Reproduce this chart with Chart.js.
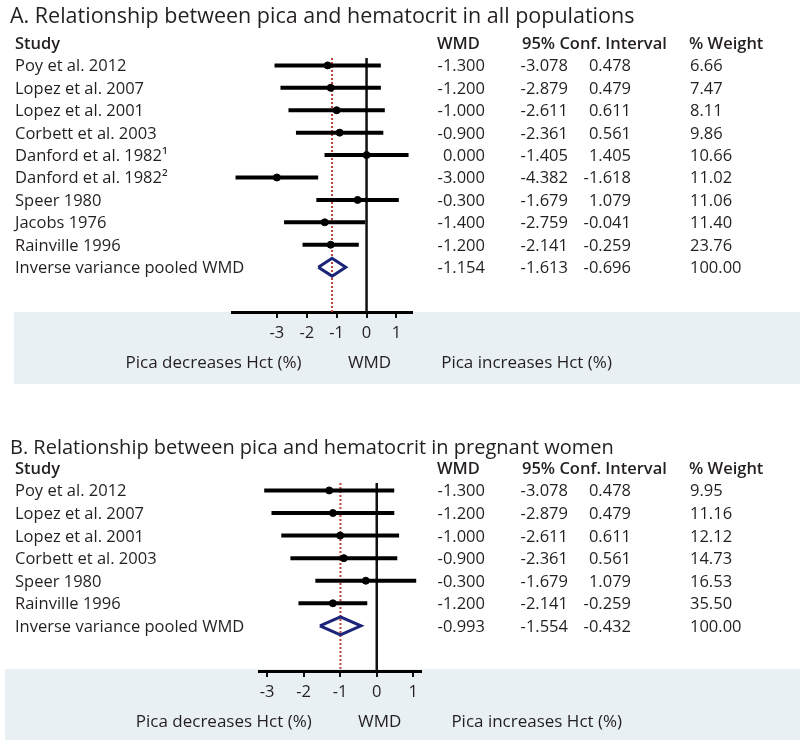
<!DOCTYPE html>
<html>
<head>
<meta charset="utf-8">
<script src="https://cdn.jsdelivr.net/npm/chart.js@4.4.0/dist/chart.umd.min.js"></script>
<style>
body { margin: 0; background: #fff; }
#page { position: relative; width: 800px; height: 741px; overflow: hidden; font-family: 'Open Sans', sans-serif; color: #231f20; }
.band { position: absolute; background: #e8f0f4; }
canvas { position: absolute; left: 0; }
.t { position: absolute; white-space: nowrap; font-size: 16.5px; line-height: 20px; }
.title { font-size: 21.5px; line-height: 26px; }
.titleB { font-size: 20px; }
.b { font-weight: 600; }
.ax { font-size: 17px; }
</style>
</head>
<body>
<div id="page">
  <div class="band" style="left:14px;top:312px;width:786px;height:72px"></div>
  <div class="band" style="left:5px;top:669px;width:795px;height:71px"></div>
  <canvas id="chartA" width="800" height="400" style="top:0"></canvas>
  <canvas id="chartB" width="800" height="341" style="top:400px"></canvas>
</div>
<script>
// Panel A - all populations
const titleA = 'A. Relationship between pica and hematocrit in all populations';
const studiesA = ['Poy et al. 2012', 'Lopez et al. 2007', 'Lopez et al. 2001', 'Corbett et al. 2003',
    'Danford et al. 1982\u00b9', 'Danford et al. 1982\u00b2', 'Speer 1980', 'Jacobs 1976', 'Rainville 1996'];
const wmdA = [-1.3, -1.2, -1.0, -0.9, 0.0, -3.0, -0.3, -1.4, -1.2];
const lowA = [-3.078, -2.879, -2.611, -2.361, -1.405, -4.382, -1.679, -2.759, -2.141];
const highA = [0.478, 0.479, 0.611, 0.561, 1.405, -1.618, 1.079, -0.041, -0.259];
const weightA = [6.66, 7.47, 8.11, 9.86, 10.66, 11.02, 11.06, 11.40, 23.76];
const pooledA = [-1.154, -1.613, -0.696];   // WMD, low, high
const xRangeA = [-4.5, 1.52];

// Panel B - pregnant women
const titleB = 'B. Relationship between pica and hematocrit in pregnant women';
const studiesB = ['Poy et al. 2012', 'Lopez et al. 2007', 'Lopez et al. 2001', 'Corbett et al. 2003',
    'Speer 1980', 'Rainville 1996'];
const wmdB = [-1.3, -1.2, -1.0, -0.9, -0.3, -1.2];
const lowB = [-3.078, -2.879, -2.611, -2.361, -1.679, -2.141];
const highB = [0.478, 0.479, 0.611, 0.561, 1.079, -0.259];
const weightB = [9.95, 11.16, 12.12, 14.73, 16.53, 35.50];
const pooledB = [-0.993, -1.554, -0.432];
const xRangeB = [-3.22, 1.21];

const pooledLabel = 'Inverse variance pooled WMD';
const pooledWeight = 100.00;
const xTicks = [-3, -2, -1, 0, 1];
const headers = ['Study', 'WMD', '95% Conf. Interval', '% Weight'];
const axisLabels = ['Pica decreases Hct (%)', 'WMD', 'Pica increases Hct (%)'];

const page = document.getElementById('page');

function addText(str, x, y, cls, align, offsetTop) {
    const el = document.createElement('div');
    el.className = 't' + (cls ? ' ' + cls : '');
    el.textContent = str;
    const h = cls && cls.indexOf('title') >= 0 ? 26 : 20;
    el.style.top = (offsetTop + y - h / 2) + 'px';
    if (align === 'right') {
        el.style.right = (800 - x) + 'px';
    } else if (align === 'center') {
        el.style.left = x + 'px';
        el.style.transform = 'translateX(-50%)';
    } else {
        el.style.left = x + 'px';
    }
    page.appendChild(el);
}

function drawForest(canvasId, p) {
    const n = p.studies.length;
    const yTop = -0.33;
    const yBottom = n + 2;
    const datasets = [];

    // line of no effect and pooled estimate
    datasets.push({
        data: [{ x: 0, y: yTop }, { x: 0, y: yBottom }],
        borderColor: '#111', borderWidth: 2.5, order: 6
    });
    datasets.push({
        data: [{ x: p.pooled[0], y: yTop }, { x: p.pooled[0], y: yBottom }],
        borderColor: '#b8423a', borderWidth: 2, borderDash: [2, 2], order: 5
    });

    // confidence intervals
    p.low.forEach((lo, i) => {
        datasets.push({
            data: [{ x: lo, y: i }, { x: p.high[i], y: i }],
            borderColor: '#000', borderWidth: 4, order: 3
        });
    });

    // point estimates
    datasets.push({
        data: p.wmd.map((w, i) => ({ x: w, y: i })),
        showLine: false, pointRadius: 3.5, pointStyle: 'circle',
        backgroundColor: '#000', borderColor: '#000', order: 1
    });

    // pooled diamond
    const [pw, pl, ph] = p.pooled;
    datasets.push({
        data: [{ x: pl, y: n }, { x: pw, y: n - 0.4 }, { x: ph, y: n }, { x: pw, y: n + 0.4 }, { x: pl, y: n }],
        borderColor: '#1b2478', borderWidth: 3, borderJoinStyle: 'miter', order: 1
    });

    const chart = new Chart(document.getElementById(canvasId), {
        type: 'scatter',
        data: { datasets: datasets },
        options: {
            responsive: false,
            animation: false,
            events: [],
            showLine: true,
            elements: {
                point: { radius: 0 },
                line: { tension: 0, fill: false }
            },
            layout: { padding: p.padding },
            plugins: {
                legend: { display: false },
                tooltip: { enabled: false }
            },
            scales: {
                x: {
                    type: 'linear',
                    min: p.xRange[0],
                    max: p.xRange[1],
                    afterBuildTicks: (scale) => {
                        scale.ticks = xTicks.map(v => ({ value: v }));
                    },
                    afterFit: (scale) => { scale.height = 40; },
                    border: { display: true, color: '#000', width: 3 },
                    grid: { drawOnChartArea: false, drawTicks: true, tickLength: 6, color: '#111', lineWidth: 2 },
                    ticks: {
                        color: '#231f20',
                        padding: 5,
                        font: { family: 'Open Sans', size: 16.5 }
                    }
                },
                y: {
                    type: 'linear',
                    display: false,
                    reverse: true,
                    min: yTop,
                    max: yBottom
                }
            }
        }
    });

    // text columns, placed on the chart's own row positions
    const ys = chart.scales.y;
    const xs = chart.scales.x;
    const off = p.offsetTop;
    const fmt3 = v => v.toFixed(3);

    addText(p.title, 10, p.titleY, p.titleClass, 'left', off);
    const hy = ys.getPixelForValue(-1);
    addText(headers[0], 15, hy, 'b', 'left', off);
    addText(headers[1], 437, hy, 'b', 'left', off);
    addText(headers[2], 522, hy, 'b', 'left', off);
    addText(headers[3], 689, hy, 'b', 'left', off);

    const rows = p.studies.map((s, i) => [s, p.wmd[i], p.low[i], p.high[i], p.weight[i]]);
    rows.push([pooledLabel, pw, pl, ph, pooledWeight]);
    rows.forEach((r, i) => {
        const y = ys.getPixelForValue(i);
        addText(r[0], 15, y, '', 'left', off);
        addText(fmt3(r[1]), 485, y, '', 'right', off);
        addText(fmt3(r[2]), 568, y, '', 'right', off);
        addText(fmt3(r[3]), 631, y, '', 'right', off);
        addText(r[4].toFixed(2), 690, y, '', 'left', off);
    });

    const zx = xs.getPixelForValue(0);
    const ly = xs.bottom + 10;
    addText(axisLabels[0], zx - 153, ly, 'ax', 'center', off);
    addText(axisLabels[1], zx + 3, ly, 'ax', 'center', off);
    addText(axisLabels[2], zx + 160, ly, 'ax', 'center', off);
    return chart;
}

drawForest('chartA', {
    title: titleA, titleY: 15, titleClass: 'title', offsetTop: 0,
    studies: studiesA, wmd: wmdA, low: lowA, high: highA, weight: weightA, pooled: pooledA,
    xRange: xRangeA,
    padding: { left: 232, right: 388, top: 58, bottom: 48 }
});

drawForest('chartB', {
    title: titleB, titleY: 47, titleClass: 'title titleB', offsetTop: 400,
    studies: studiesB, wmd: wmdB, low: lowB, high: highB, weight: weightB, pooled: pooledB,
    xRange: xRangeB,
    padding: { left: 259, right: 379, top: 83, bottom: 30 }
});
</script>
</body>
</html>
